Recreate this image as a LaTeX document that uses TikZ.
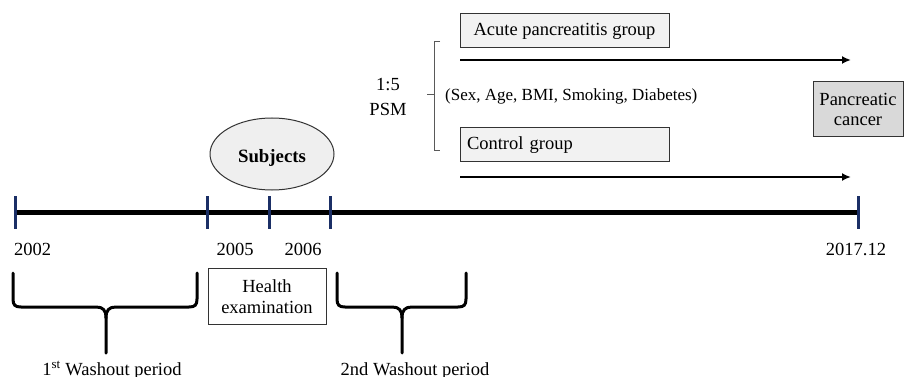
\documentclass[tikz,border=0pt]{standalone}
\usepackage{fontspec}
\setmainfont{Liberation Serif}
\usetikzlibrary{arrows.meta,shapes.geometric}
\definecolor{navy}{HTML}{1B2F66}
\definecolor{boxgray}{HTML}{F2F2F2}
\definecolor{pcgray}{HTML}{D9D9D9}
\definecolor{ellgray}{HTML}{EFEFEF}
\begin{document}
\begin{tikzpicture}[x=1pt,y=-1pt,
  txt/.style={font=\fontsize{18.5}{21}\selectfont, inner sep=0pt},
  smalltxt/.style={font=\fontsize{17}{20}\selectfont, inner sep=0pt},
  tickmark/.style={draw=navy, line width=3pt},
  axisline/.style={line width=5pt, black},
  grpbox/.style={draw=black!80, line width=1pt, fill=boxgray, inner sep=0pt, font=\fontsize{18.5}{21}\selectfont},
  brace/.style={line width=3pt, line join=round, line cap=round},
  follow/.style={line width=2.6pt, -{Latex[length=9pt,width=8pt]}}
]
\useasboundingbox (0,0) rectangle (905,377);

% timeline
\coordinate (a0) at (15,212);
\coordinate (a1) at (858,212);
\draw[axisline] (a0) -- (a1);
\foreach \x/\n in {15/t1,207/t2,269/t3,330/t4,858/t5}{
  \coordinate (\n a) at (\x,196);
  \coordinate (\n b) at (\x,229);
  \draw[tickmark] (\n a) -- (\n b);
}

% year labels
\node[txt, anchor=base west] (y2002) at (14,255) {2002};
\node[txt, anchor=base] (y2005) at (235,255) {2005};
\node[txt, anchor=base] (y2006) at (303,255) {2006};
\node[txt, anchor=base] (y2017) at (856,255) {2017.12};

% health examination box
\node[draw=black!80, line width=1pt, minimum width=118pt, minimum height=56pt, inner sep=0pt] (hbox) at (267,296) {};
\node[txt, anchor=base] (hl1) at (267,292) {Health};
\node[txt, anchor=base] (hl2) at (267,313) {examination};

% subjects ellipse
\node[ellipse, draw=black!80, line width=1pt, fill=ellgray, minimum width=124pt, minimum height=72pt, inner sep=0pt] (subj) at (272,154) {};
\node[font=\fontsize{18.8}{21}\selectfont\bfseries, inner sep=0pt, anchor=base] (subjt) at (272,162) {Subjects};

% bottom braces
\draw[brace] (13,273) -- (13,299) .. controls (13,305) and (15,307) .. (21,307)
  -- (96,307) .. controls (103,307) and (106,310) .. (106,318) -- (106,353);
\draw[brace] (197,273) -- (197,299) .. controls (197,305) and (195,307) .. (189,307)
  -- (116,307) .. controls (109,307) and (106,310) .. (106,318);
\draw[brace] (337,273) -- (337,299) .. controls (337,305) and (339,307) .. (345,307)
  -- (392,307) .. controls (399,307) and (402,310) .. (402,318) -- (402,353);
\draw[brace] (466,273) -- (466,299) .. controls (466,305) and (464,307) .. (458,307)
  -- (412,307) .. controls (405,307) and (402,310) .. (402,318);
\node[txt, anchor=base] (wash1) at (112,375) {1\textsuperscript{st} Washout period};
\node[txt, anchor=base] (wash2) at (415,375) {2nd Washout period};

% groups
\node[grpbox, minimum width=209pt, minimum height=34pt] (acute) at (564.5,31) {Acute pancreatitis group};
\node[grpbox, minimum width=209pt, minimum height=34pt, text width=195pt, align=left] (ctrl) at (564.5,145) {Control group};

\coordinate (ar1s) at (460,60);
\coordinate (ar1e) at (851,60);
\coordinate (ar2s) at (460,177);
\coordinate (ar2e) at (851,177);
\draw[follow] (ar1s) -- (ar1e);
\draw[follow] (ar2s) -- (ar2e);

% PSM bracket
\draw[gray!70!black, line width=0.8pt] (440,41) -- (434,41) -- (434,150) -- (440,150);
\draw[gray!70!black, line width=0.8pt] (434,94) -- (427,94);
\node[txt, anchor=base] (r15) at (388,91) {1:5};
\node[txt, anchor=base] (psm) at (388,116) {PSM};
\node[smalltxt, anchor=base west] (covs) at (445,101) {(Sex, Age, BMI, Smoking, Diabetes)};

% pancreatic cancer box
\node[draw=black!80, line width=1pt, fill=pcgray, minimum width=90pt, minimum height=55pt, inner sep=0pt] (pc) at (858,109.5) {};
\node[txt, anchor=base] (pc1) at (858,106) {Pancreatic};
\node[txt, anchor=base] (pc2) at (858,126) {cancer};
\end{tikzpicture}
\end{document}
